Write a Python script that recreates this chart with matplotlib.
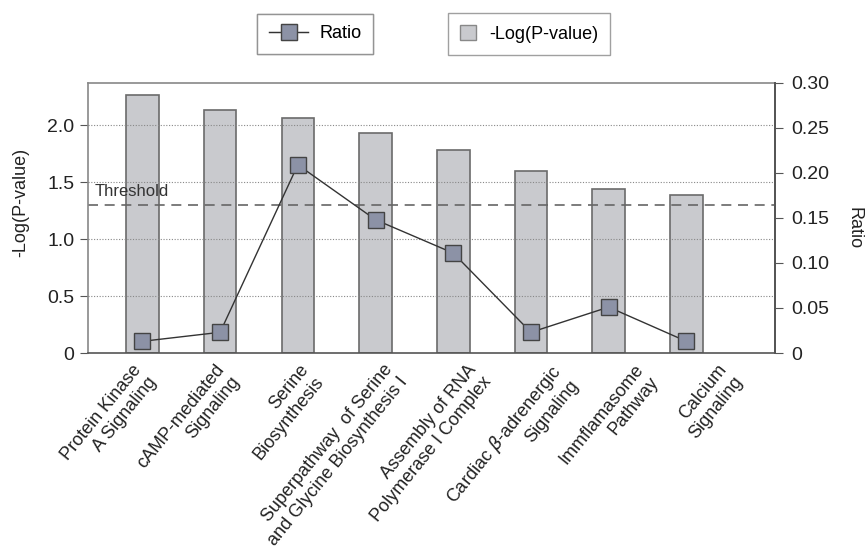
import matplotlib.pyplot as plt
from matplotlib.lines import Line2D
from matplotlib.patches import Patch
from matplotlib.transforms import ScaledTranslation

plt.rcParams['font.family'] = ['Liberation Sans', 'DejaVu Sans']

pathways = ["Protein Kinase\nA Signaling",
            "cAMP-mediated\nSignaling",
            "Serine\nBiosynthesis",
            "Superpathway  of Serine\nand Glycine Biosynthesis I",
            "Assembly of RNA\nPolymerase I Complex",
            "Cardiac $\\beta$-adrenergic\nSignaling",
            "Immflamasome\nPathway",
            "Calcium\nSignaling"]
log_p = [2.26, 2.13, 2.06, 1.93, 1.78, 1.60, 1.44, 1.39]
ratio = [0.013, 0.023, 0.209, 0.148, 0.111, 0.023, 0.051, 0.013]
threshold = 1.3

bar_color = '#c9cace'
edge_color = '#6b6b6b'
marker_color = '#8c92a6'

fig = plt.figure(figsize=(8.68, 5.49), dpi=100)
ax = fig.add_axes([0.1014, 0.357, 0.7914, 0.492])
x = list(range(len(pathways)))

ax.bar(x, log_p, width=0.42, color=bar_color, edgecolor=edge_color,
       linewidth=1.2, zorder=1)
ax.set_xlim(-0.7, 8.14)
ax.set_ylim(0, 2.37)
ax.set_yticks([0, 0.5, 1.0, 1.5, 2.0])
ax.set_yticklabels(['0', '0.5', '1.0', '1.5', '2.0'])
for yv in [0.5, 1.0, 1.5, 2.0]:
    ax.axhline(yv, color='#888888', linestyle=(0, (1, 1.5)), linewidth=0.8, zorder=2)
ax.axhline(threshold, color='#666666', linestyle=(0, (6, 4)), linewidth=1.2, zorder=2)
ax.text(-0.62, threshold + 0.05, 'Threshold', fontsize=12, color='#333333',
        va='bottom', ha='left')
ax.set_ylabel('-Log(P-value)', fontsize=13, color='#222222')
ax.yaxis.set_label_coords(-0.086, 0.556)
ax.tick_params(axis='y', labelsize=14, direction='out', length=6,
               color='#555555', labelcolor='#222222', pad=4)
ax.set_xticks(x)
ax.set_xticklabels(pathways, rotation=51, ha='right', va='top',
                   rotation_mode='anchor', fontsize=13, color='#222222',
                   multialignment='right', linespacing=1.2)
ax.tick_params(axis='x', length=0, pad=6)
# labels in the original drift slightly right of their bars
for i, lab in enumerate(ax.get_xticklabels()):
    dx = (-11 + 6 * i) / 100
    lab.set_transform(lab.get_transform() + ScaledTranslation(dx, 0, fig.dpi_scale_trans))
for s in ax.spines.values():
    s.set_color('#888888')
    s.set_linewidth(1.2)
ax.spines['bottom'].set_color('#555555')

ax2 = ax.twinx()
ax2.plot(x, ratio, color='#333333', linewidth=1.0, marker='s',
         markersize=12, markerfacecolor=marker_color,
         markeredgecolor='#444444', markeredgewidth=1.0, zorder=3)
ax2.set_ylim(0, 0.30)
ax2.set_yticks([0, 0.05, 0.10, 0.15, 0.20, 0.25, 0.30])
ax2.set_yticklabels(['0', '0.05', '0.10', '0.15', '0.20', '0.25', '0.30'])
ax2.tick_params(axis='y', labelsize=14, direction='out', length=6,
                color='#555555', labelcolor='#222222', pad=6)
ax2.spines['right'].set_color('#555555')
ax2.spines['right'].set_linewidth(1.4)
ax2.spines['top'].set_visible(False)
ax2.spines['left'].set_visible(False)
ax2.spines['bottom'].set_visible(False)
ax2.set_ylabel('Ratio', fontsize=13, rotation=-90, color='#222222')
ax2.yaxis.set_label_coords(1.128, 0.463)

h1 = Line2D([], [], color='#333333', linewidth=1.0, marker='s', markersize=12,
            markerfacecolor=marker_color, markeredgecolor='#444444')
leg1 = fig.legend([h1], ['Ratio'], loc='center', bbox_to_anchor=(315 / 868, 1 - 34 / 549),
                  fontsize=13, fancybox=False, edgecolor='#888888', handlelength=2.2,
                  borderpad=0.65, handletextpad=0.6)
fig.add_artist(leg1)
h2 = Patch(facecolor=bar_color, edgecolor='#888888')
fig.legend([h2], ['-Log(P-value)'], loc='center', bbox_to_anchor=(529 / 868, 1 - 34 / 549),
           fontsize=13, fancybox=False, edgecolor='#888888', handlelength=0.9,
           handleheight=0.9, borderpad=0.65, handletextpad=0.7)

fig.savefig('out.png', dpi=100)
